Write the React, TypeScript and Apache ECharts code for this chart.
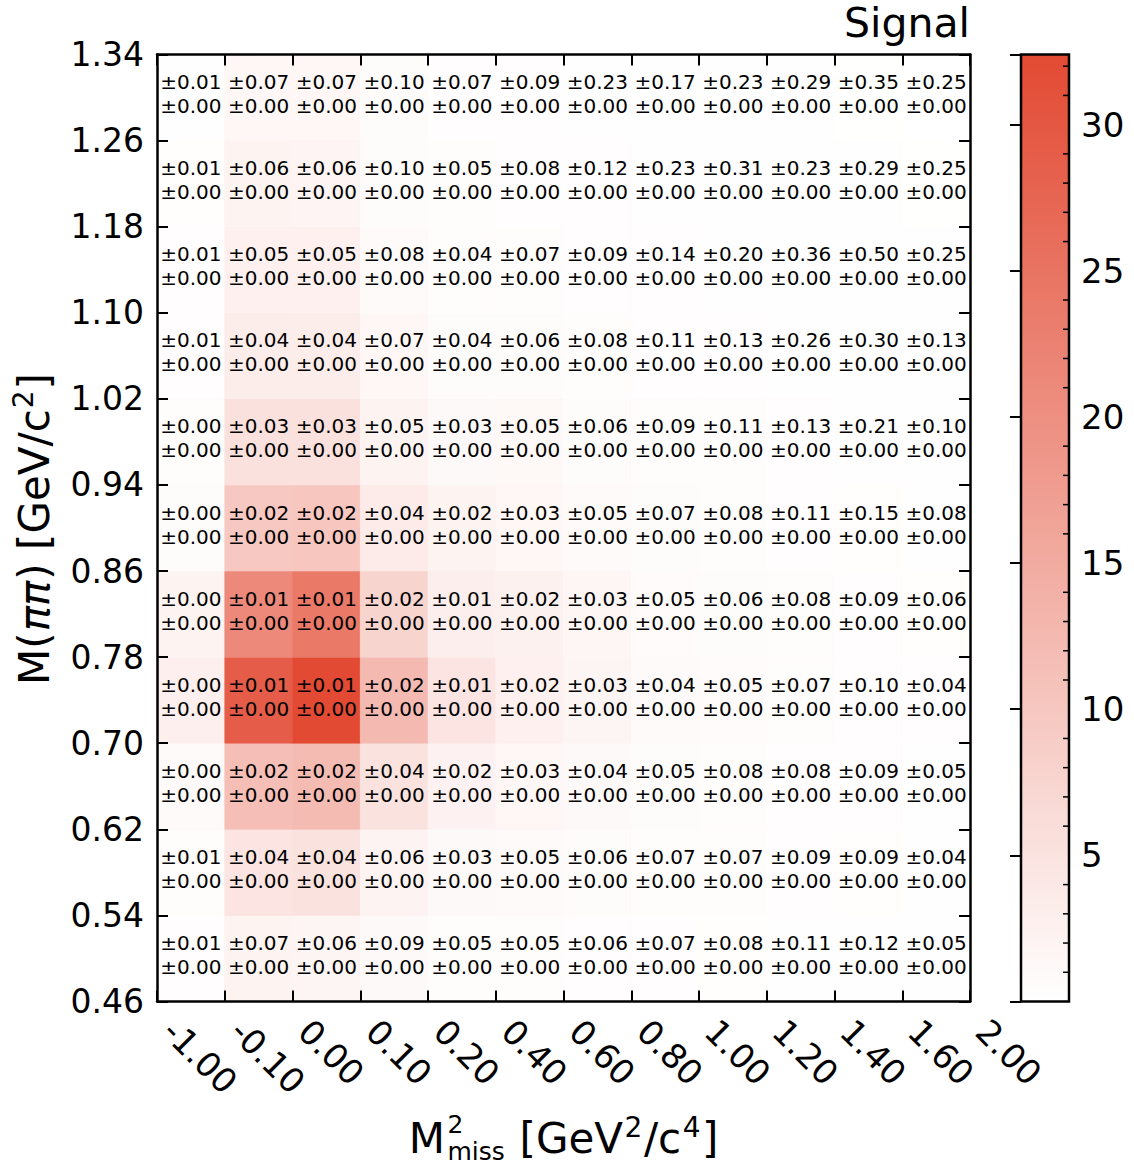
import React, { useEffect, useRef } from 'react';
import * as echarts from 'echarts';

// Bin edges (tick labels)
const xEdges = ['-1.00', '-0.10', '0.00', '0.10', '0.20', '0.40', '0.60', '0.80', '1.00', '1.20', '1.40', '1.60', '2.00'];
const yEdges = ['0.46', '0.54', '0.62', '0.70', '0.78', '0.86', '0.94', '1.02', '1.10', '1.18', '1.26', '1.34'];

// Signal yields per cell, rows from lowest M(pipi) bin upward
const counts = [
  [0.3, 2.0, 1.8, 1.0, 0.5, 0.4, 0.35, 0.3, 0.25, 0.2, 0.15, 0.1],
  [0.4, 4.8, 5.2, 2.1, 1.0, 0.9, 0.7, 0.5, 0.4, 0.3, 0.25, 0.15],
  [0.9, 11.6, 12.2, 5.2, 2.3, 1.4, 1.0, 0.6, 0.45, 0.35, 0.3, 0.2],
  [2.8, 29.0, 32.4, 12.3, 4.8, 2.7, 1.8, 0.9, 0.8, 0.45, 0.35, 0.3],
  [2.0, 21.2, 24.0, 7.7, 3.0, 2.5, 1.6, 0.8, 0.7, 0.4, 0.35, 0.25],
  [0.7, 9.8, 10.2, 3.6, 2.0, 1.5, 0.9, 0.6, 0.5, 0.3, 0.25, 0.2],
  [0.5, 5.4, 5.4, 2.0, 1.0, 1.2, 0.7, 0.5, 0.4, 0.3, 0.2, 0.15],
  [0.35, 3.4, 3.3, 1.4, 0.7, 0.6, 0.45, 0.35, 0.3, 0.2, 0.15, 0.12],
  [0.3, 2.7, 2.6, 0.9, 0.5, 0.45, 0.35, 0.3, 0.2, 0.15, 0.1, 0.1],
  [0.25, 2.0, 1.9, 0.7, 0.4, 0.35, 0.3, 0.2, 0.15, 0.12, 0.1, 0.08],
  [0.2, 1.4, 1.4, 0.6, 0.3, 0.3, 0.2, 0.15, 0.12, 0.1, 0.08, 0.06],
];

// First uncertainty printed in each cell
const statErr = [
  [0.01, 0.07, 0.06, 0.09, 0.05, 0.05, 0.06, 0.07, 0.08, 0.11, 0.12, 0.05],
  [0.01, 0.04, 0.04, 0.06, 0.03, 0.05, 0.06, 0.07, 0.07, 0.09, 0.09, 0.04],
  [0.00, 0.02, 0.02, 0.04, 0.02, 0.03, 0.04, 0.05, 0.08, 0.08, 0.09, 0.05],
  [0.00, 0.01, 0.01, 0.02, 0.01, 0.02, 0.03, 0.04, 0.05, 0.07, 0.10, 0.04],
  [0.00, 0.01, 0.01, 0.02, 0.01, 0.02, 0.03, 0.05, 0.06, 0.08, 0.09, 0.06],
  [0.00, 0.02, 0.02, 0.04, 0.02, 0.03, 0.05, 0.07, 0.08, 0.11, 0.15, 0.08],
  [0.00, 0.03, 0.03, 0.05, 0.03, 0.05, 0.06, 0.09, 0.11, 0.13, 0.21, 0.10],
  [0.01, 0.04, 0.04, 0.07, 0.04, 0.06, 0.08, 0.11, 0.13, 0.26, 0.30, 0.13],
  [0.01, 0.05, 0.05, 0.08, 0.04, 0.07, 0.09, 0.14, 0.20, 0.36, 0.50, 0.25],
  [0.01, 0.06, 0.06, 0.10, 0.05, 0.08, 0.12, 0.23, 0.31, 0.23, 0.29, 0.25],
  [0.01, 0.07, 0.07, 0.10, 0.07, 0.09, 0.23, 0.17, 0.23, 0.29, 0.35, 0.25],
];

// Second uncertainty printed in each cell (all zero)
const sysErr = counts.map((row) => row.map(() => 0));

const colorbarMin = 0;
const colorbarMax = 32.4;
const colorbarMajorStep = 5;
const colorbarMinorTicks = Array.from({ length: 32 }, (_, i) => i + 1).filter((v) => v % 5 !== 0);

const titleText = 'Signal';

const FAMILY = '"DejaVu Sans", sans-serif';
const RED = '#e24a33';

type Seg = { t: string; s: number; dy: number; it?: boolean; lh?: number; gap?: number };

function mathLabel(segs: Seg[], gap: number) {
  const ctx = document.createElement('canvas').getContext('2d') as CanvasRenderingContext2D;
  const widths = segs.map((g) => {
    ctx.font = `${g.it ? 'italic ' : ''}${g.s}px "DejaVu Sans"`;
    return Math.max(...g.t.split('\n').map((line) => ctx.measureText(line).width));
  });
  let x = 0;
  const pos: number[] = [];
  segs.forEach((g, i) => {
    pos.push(x);
    x += widths[i] + (i < segs.length - 1 ? g.gap ?? gap : 0);
  });
  const total = x;
  return segs.map((g, i) => ({
    type: 'text',
    x: pos[i] - total / 2,
    y: g.dy - 0.346 * g.s,
    style: {
      text: g.t,
      fontSize: g.s,
      fontFamily: FAMILY,
      fontStyle: g.it ? 'italic' : 'normal',
      lineHeight: g.lh ?? Math.round(g.s * 1.17),
      fill: '#000',
      textAlign: 'left',
      textVerticalAlign: 'middle',
      align: 'left',
      verticalAlign: 'middle',
    },
  }));
}

export default function App() {
  const ref = useRef<HTMLDivElement>(null);

  useEffect(() => {
    if (!ref.current) return;
    const chart = echarts.init(ref.current, undefined, { renderer: 'svg' });

    const cells: number[][] = [];
    counts.forEach((row, i) => {
      row.forEach((v, j) => {
        cells.push([j, i, v, statErr[i][j], sysErr[i][j]]);
      });
    });

    const gridL = 157;
    const gridT = 54.5;
    const gridW = 813;
    const gridH = 947;

    const axisLine = { show: true, onZero: false, lineStyle: { color: '#000', width: 2.5 } };
    const tick = { show: true, inside: true, length: 11, lineStyle: { color: '#000', width: 2 } };

    const option: any = {
      animation: false,
      backgroundColor: '#fff',
      grid: [
        { left: gridL, top: gridT, width: gridW, height: gridH, containLabel: false },
        { left: 1021, top: gridT, width: 48, height: gridH, containLabel: false },
      ],
      visualMap: {
        type: 'continuous',
        show: false,
        min: colorbarMin,
        max: colorbarMax,
        dimension: 2,
        seriesIndex: 0,
        inRange: { color: ['#ffffff', RED] },
      },
      xAxis: [
        {
          gridIndex: 0,
          type: 'value',
          position: 'bottom',
          min: 0,
          max: xEdges.length - 1,
          interval: 1,
          axisLine,
          axisTick: tick,
          splitLine: { show: false },
          axisLabel: {
            formatter: (v: number) => xEdges[Math.round(v)] ?? '',
            rotate: -45,
            verticalAlign: 'bottom',
            fontSize: 34,
            fontFamily: FAMILY,
            color: '#000',
            margin: 36,
          },
          z: 10,
        },
        {
          gridIndex: 0,
          type: 'value',
          position: 'top',
          min: 0,
          max: xEdges.length - 1,
          interval: 1,
          axisLine,
          axisTick: tick,
          splitLine: { show: false },
          axisLabel: { show: false },
          z: 10,
        },
        { gridIndex: 1, type: 'value', min: 0, max: 1, show: false },
      ],
      yAxis: [
        {
          gridIndex: 0,
          type: 'value',
          position: 'left',
          min: 0,
          max: yEdges.length - 1,
          interval: 1,
          axisLine,
          axisTick: tick,
          splitLine: { show: false },
          axisLabel: {
            formatter: (v: number) => yEdges[Math.round(v)] ?? '',
            fontSize: 33,
            fontFamily: FAMILY,
            color: '#000',
            margin: 13,
          },
          z: 10,
        },
        {
          gridIndex: 0,
          type: 'value',
          position: 'right',
          min: 0,
          max: yEdges.length - 1,
          interval: 1,
          axisLine,
          axisTick: tick,
          splitLine: { show: false },
          axisLabel: { show: false },
          z: 10,
        },
        {
          gridIndex: 1,
          type: 'value',
          position: 'right',
          min: colorbarMin,
          max: colorbarMax,
          interval: colorbarMajorStep,
          axisLine: { show: false },
          axisTick: { show: true, inside: true, length: 11, lineStyle: { color: '#000', width: 2 } },
          splitLine: { show: false },
          axisLabel: {
            formatter: (v: number) => (v > 0 && Math.abs(v % colorbarMajorStep) < 1e-9 ? String(v) : ''),
            fontSize: 34,
            fontFamily: FAMILY,
            color: '#000',
            margin: 12,
          },
          z: 10,
        },
      ],
      series: [
        {
          type: 'custom',
          xAxisIndex: 0,
          yAxisIndex: 0,
          encode: { x: 0, y: 1 },
          data: cells,
          z: 2,
          renderItem: (params: any, api: any) => {
            const x = api.value(0);
            const y = api.value(1);
            const p0 = api.coord([x, y + 1]);
            const p1 = api.coord([x + 1, y]);
            const w = p1[0] - p0[0];
            const h = p1[1] - p0[1];
            const color = api.visual('color');
            const e1 = Number(api.value(3)).toFixed(2);
            const e2 = Number(api.value(4)).toFixed(2);
            return {
              type: 'group',
              children: [
                {
                  type: 'rect',
                  shape: { x: p0[0], y: p0[1], width: w, height: h },
                  style: { fill: color, stroke: color, lineWidth: 0.6 },
                },
                {
                  type: 'text',
                  x: p0[0] + w / 2,
                  y: p0[1] + h / 2 - 3.5,
                  z2: 10,
                  style: {
                    text: `±${e1}\n±${e2}`,
                    fontSize: 20,
                    fontFamily: FAMILY,
                    lineHeight: 24,
                    fill: '#000',
                    textAlign: 'center',
                    textVerticalAlign: 'middle',
                    align: 'center',
                    verticalAlign: 'middle',
                  },
                },
              ],
            };
          },
        },
        {
          type: 'custom',
          xAxisIndex: 2,
          yAxisIndex: 2,
          encode: { x: 0, y: 1 },
          data: [[0, colorbarMin, colorbarMax]],
          z: 1,
          renderItem: (params: any, api: any) => {
            const p0 = api.coord([0, api.value(2)]);
            const p1 = api.coord([1, api.value(1)]);
            return {
              type: 'rect',
              shape: { x: p0[0], y: p0[1], width: p1[0] - p0[0], height: p1[1] - p0[1] },
              style: {
                fill: new echarts.graphic.LinearGradient(0, 0, 0, 1, [
                  { offset: 0, color: RED },
                  { offset: 1, color: '#ffffff' },
                ]),
                stroke: '#000',
                lineWidth: 2.5,
              },
            };
          },
        },
        {
          type: 'custom',
          xAxisIndex: 2,
          yAxisIndex: 2,
          encode: { x: 0, y: 1 },
          data: colorbarMinorTicks.map((v) => [1, v]),
          z: 5,
          renderItem: (params: any, api: any) => {
            const p = api.coord([1, api.value(1)]);
            return {
              type: 'line',
              shape: { x1: p[0] - 6, y1: p[1], x2: p[0], y2: p[1] },
              style: { stroke: '#000', lineWidth: 1.5 },
            };
          },
        },
      ],
      graphic: [
        {
          type: 'text',
          x: 970,
          y: 23,
          style: {
            text: titleText,
            fontSize: 41,
            fontFamily: FAMILY,
            fill: '#000',
            textAlign: 'right',
            textVerticalAlign: 'middle',
            align: 'right',
            verticalAlign: 'middle',
          },
        },
        {
          type: 'group',
          x: 563.5,
          y: 1153,
          children: mathLabel(
            [
              { t: 'M', s: 42, dy: 0, gap: 2.5 },
              { t: '2\nmiss', s: 25, dy: -6.5, lh: 27 },
              { t: ' [GeV', s: 42, dy: 0 },
              { t: '2', s: 28, dy: -16 },
              { t: '/c', s: 42, dy: 0 },
              { t: '4', s: 28, dy: -16 },
              { t: ']', s: 42, dy: 0 },
            ],
            1.5
          ),
        },
        {
          type: 'group',
          x: 49,
          y: 529,
          rotation: Math.PI / 2,
          children: mathLabel(
            [
              { t: 'M(', s: 42, dy: 0 },
              { t: 'ππ', s: 42, dy: 0, it: true },
              { t: ') [GeV/c', s: 42, dy: 0 },
              { t: '2', s: 28, dy: -16 },
              { t: ']', s: 42, dy: 0 },
            ],
            1
          ),
        },
      ],
    };

    chart.setOption(option);
    return () => chart.dispose();
  }, []);

  return (
    <div
      ref={ref}
      style={{ position: 'fixed', left: 0, top: 0, width: 1134, height: 1169, background: '#fff' }}
    />
  );
}
